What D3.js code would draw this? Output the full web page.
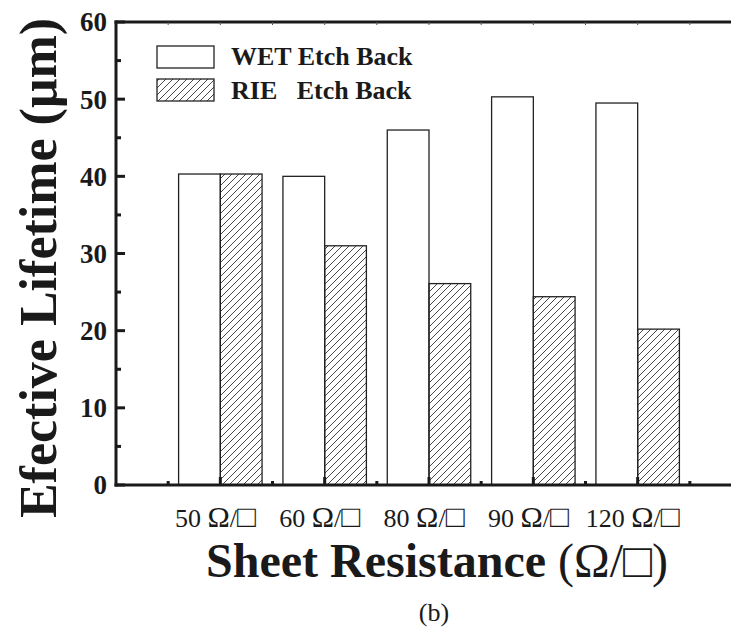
<!DOCTYPE html>
<html><head><meta charset="utf-8">
<script src="https://cdn.jsdelivr.net/npm/d3@7"></script>
<style>body{margin:0;background:#fff}svg{display:block}</style>
</head><body><svg id="c" width="731" height="642"></svg>
<script>
const categories = ["50", "60", "80", "90", "120"];
const unitLabel = ["Ω", "/", "□"];
const wetValues = [40.3, 40.0, 46.0, 50.3, 49.5];
const rieValues = [40.3, 31.0, 26.1, 24.4, 20.2];
const seriesNames = ["WET Etch Back", "RIE\u00a0\u00a0\u00a0Etch Back"];
const yTicks = [0, 10, 20, 30, 40, 50, 60];

const svg = d3.select("#c");
const serif = "'Liberation Serif','Times New Roman',serif";
const ink = "#1a1a1a";

const x = d3.scaleLinear().domain([0, 6]).range([116, 742]);
const y = d3.scaleLinear().domain([0, 60]).range([485, 22]);
const bw = 0.4;

const defs = svg.append("defs");
const pat = defs.append("pattern").attr("id","hatch").attr("patternUnits","userSpaceOnUse")
  .attr("width",7).attr("height",7);
pat.append("path").attr("d","M0,7 L7,0 M-1,1 L1,-1 M6,8 L8,6")
  .attr("stroke","#333").attr("stroke-width",0.9).attr("fill","none");

// bars
const idx = d3.range(categories.length);
svg.append("g").selectAll("rect").data(idx).join("rect")
  .attr("x", i => x(i + 1 - bw)).attr("width", i => x(i + 1) - x(i + 1 - bw))
  .attr("y", i => y(wetValues[i])).attr("height", i => y(0) - y(wetValues[i]))
  .attr("fill","#fff").attr("stroke","#222").attr("stroke-width",1.3);
svg.append("g").selectAll("rect").data(idx).join("rect")
  .attr("x", i => x(i + 1)).attr("width", i => x(i + 1 + bw) - x(i + 1))
  .attr("y", i => y(rieValues[i])).attr("height", i => y(0) - y(rieValues[i]))
  .attr("fill","url(#hatch)").attr("stroke","#222").attr("stroke-width",1.3);

// y axis
const yAxis = svg.append("g").attr("transform",`translate(${x(0)},0)`);
yAxis.append("line").attr("x1",0).attr("x2",0).attr("y1",y(60)-1.5).attr("y2",y(0)+1.5)
  .attr("stroke",ink).attr("stroke-width",3);
yTicks.forEach(v => {
  yAxis.append("line").attr("x1",0).attr("x2",9).attr("y1",y(v)).attr("y2",y(v))
    .attr("stroke",ink).attr("stroke-width",3);
  yAxis.append("text").attr("x",-9).attr("y",y(v)).attr("dy","0.35em")
    .attr("text-anchor","end").attr("font-family",serif).attr("font-weight","bold")
    .attr("font-size",27).attr("fill",ink).text(v);
});
d3.range(5, 60, 10).forEach(v => {
  yAxis.append("line").attr("x1",0).attr("x2",5).attr("y1",y(v)).attr("y2",y(v))
    .attr("stroke",ink).attr("stroke-width",3);
});

// x axis (bottom and top)
svg.append("line").attr("x1",x(0)-1.5).attr("x2",731).attr("y1",y(0)).attr("y2",y(0))
  .attr("stroke",ink).attr("stroke-width",3);
svg.append("line").attr("x1",x(0)-1.5).attr("x2",731).attr("y1",y(60)).attr("y2",y(60))
  .attr("stroke",ink).attr("stroke-width",3);
idx.forEach(i => {
  svg.append("line").attr("x1",x(i+1)).attr("x2",x(i+1)).attr("y1",y(0)).attr("y2",y(0)-8)
    .attr("stroke",ink).attr("stroke-width",3);
  svg.append("line").attr("x1",x(i+1)).attr("x2",x(i+1)).attr("y1",y(60)).attr("y2",y(60)+3)
    .attr("stroke","#555").attr("stroke-width",1);
  const t = svg.append("text").attr("x",x(i+1) - 5).attr("y",527).attr("text-anchor","middle")
    .attr("font-family",serif).attr("font-size",26).attr("fill",ink);
  t.append("tspan").text(categories[i] + " ");
  t.append("tspan").attr("font-size",30).text(unitLabel[0]);
  t.append("tspan").text(unitLabel[1]);
  t.append("tspan").attr("font-size",31).text(unitLabel[2]);
});
d3.range(0.5, 6, 1).forEach(v => {
  svg.append("line").attr("x1",x(v)).attr("x2",x(v)).attr("y1",y(0)).attr("y2",y(0)-4)
    .attr("stroke",ink).attr("stroke-width",3);
  svg.append("line").attr("x1",x(v)).attr("x2",x(v)).attr("y1",y(60)).attr("y2",y(60)+3)
    .attr("stroke","#555").attr("stroke-width",1);
});

// legend
const lg = svg.append("g");
lg.append("rect").attr("x",157).attr("y",46).attr("width",57).attr("height",22)
  .attr("fill","#fff").attr("stroke","#222").attr("stroke-width",1.3);
lg.append("rect").attr("x",157).attr("y",79).attr("width",57).attr("height",22)
  .attr("fill","url(#hatch)").attr("stroke","#222").attr("stroke-width",1.3);
[[seriesNames[0],65],[seriesNames[1],99]].forEach(([t,yy]) => {
  lg.append("text").attr("x",231).attr("y",yy).attr("font-family",serif)
    .attr("font-weight","bold").attr("font-size",26).attr("fill",ink).text(t);
});

// axis titles
const yt = svg.append("text").attr("transform","translate(56,268) rotate(-90)")
  .attr("text-anchor","middle").attr("font-family",serif).attr("font-size",52)
  .attr("fill",ink);
yt.append("tspan").attr("font-weight","bold").text("Efective Lifetime ");
yt.append("tspan").attr("font-weight","bold").text("(μm)");

const xt = svg.append("text").attr("x",437).attr("y",577).attr("text-anchor","middle")
  .attr("font-family",serif).attr("font-size",48).attr("fill",ink);
xt.append("tspan").attr("font-weight","bold").text("Sheet Resistance ");
xt.append("tspan").attr("font-weight","normal").text("(Ω/□)");

svg.append("text").attr("x",434).attr("y",621).attr("text-anchor","middle")
  .attr("font-family",serif).attr("font-size",26).attr("fill",ink).text("(b)");
</script></body></html>
